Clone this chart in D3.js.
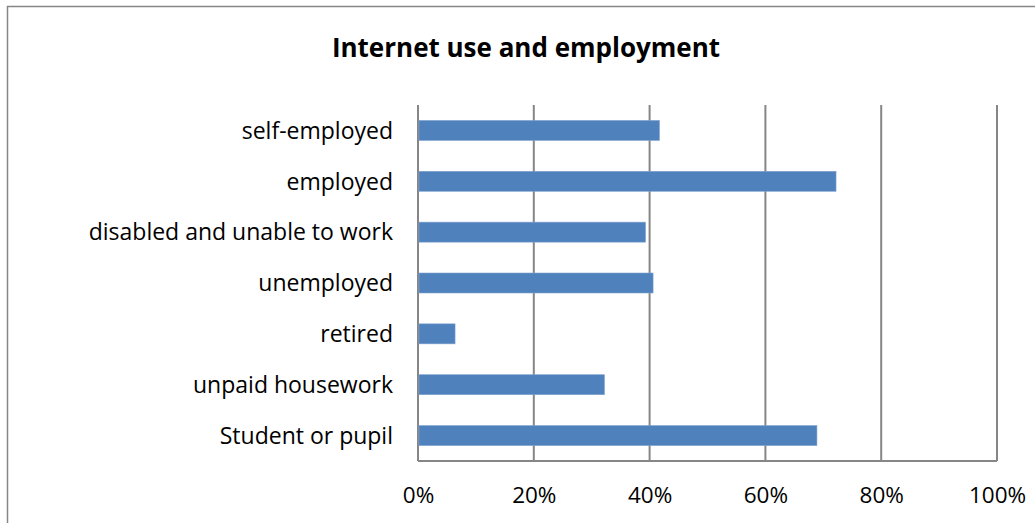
<!DOCTYPE html>
<html>
<head>
<meta charset="utf-8">
<script src="https://cdn.jsdelivr.net/npm/d3@7"></script>
<style>
  html, body { margin: 0; padding: 0; background: #fff; }
  svg { display: block; }
</style>
</head>
<body>
<svg id="chart" width="1035" height="523"></svg>
<script>
// Share of each employment group using the internet
const categories = ["self-employed", "employed", "disabled and unable to work", "unemployed", "retired", "unpaid housework", "Student or pupil"];
const values = [0.417, 0.722, 0.393, 0.406, 0.064, 0.322, 0.689];
const tickValues = [0, 0.2, 0.4, 0.6, 0.8, 1.0];
const title = "Internet use and employment";

const svg = d3.select("#chart");
const font = "'Open Sans', sans-serif";
const grey = "#868686";

// chart frame (runs off the right and bottom edges)
svg.append("rect")
  .attr("x", 7.5).attr("y", 6.5)
  .attr("width", 1100).attr("height", 600)
  .attr("fill", "#fff")
  .attr("stroke", grey).attr("stroke-width", 1.5);

const plot = { left: 418, right: 997, top: 105, bottom: 461 };

const x = d3.scaleLinear().domain([0, 1]).range([plot.left, plot.right]);
const y = d3.scaleBand()
  .domain(categories)
  .range([plot.top, plot.bottom])
  .paddingInner(0.607)
  .paddingOuter(0.3035);

// vertical gridlines
svg.append("g")
  .selectAll("line")
  .data(tickValues)
  .join("line")
  .attr("x1", d => x(d)).attr("x2", d => x(d))
  .attr("y1", plot.top).attr("y2", plot.bottom)
  .attr("stroke", grey).attr("stroke-width", 2);

// bottom axis line
svg.append("line")
  .attr("x1", plot.left).attr("x2", plot.right)
  .attr("y1", plot.bottom).attr("y2", plot.bottom)
  .attr("stroke", grey).attr("stroke-width", 2);

// bars
svg.append("g")
  .selectAll("rect")
  .data(categories)
  .join("rect")
  .attr("x", x(0) + 1)
  .attr("y", d => y(d))
  .attr("width", (d, i) => x(values[i]) - x(0) - 1)
  .attr("height", y.bandwidth())
  .attr("fill", "#4F81BD")
  .attr("stroke", "#7FA3CF")
  .attr("stroke-width", 0.6);

// x tick labels
const xAxis = d3.axisBottom(x)
  .tickValues(tickValues)
  .tickFormat(d3.format(".0%"))
  .tickSize(0)
  .tickPadding(0);
const gx = svg.append("g").attr("transform", `translate(0, ${plot.bottom})`).call(xAxis);
gx.select(".domain").remove();
gx.selectAll("text")
  .attr("dy", null)
  .attr("y", 42)
  .attr("font-family", font)
  .attr("font-size", 22.5)
  .attr("fill", "#000");

// category labels
const yAxis = d3.axisLeft(y).tickSize(0).tickPadding(0);
const gy = svg.append("g").attr("transform", `translate(393, 0)`).call(yAxis);
gy.select(".domain").remove();
gy.selectAll("text")
  .attr("dy", "0.36em")
  .attr("font-family", font)
  .attr("font-size", 23)
  .attr("fill", "#000");

// title
svg.append("text")
  .attr("x", 526).attr("y", 57)
  .attr("text-anchor", "middle")
  .attr("font-family", font)
  .attr("font-weight", "bold")
  .attr("font-size", 26)
  .attr("fill", "#000")
  .text(title);
</script>
</body>
</html>
